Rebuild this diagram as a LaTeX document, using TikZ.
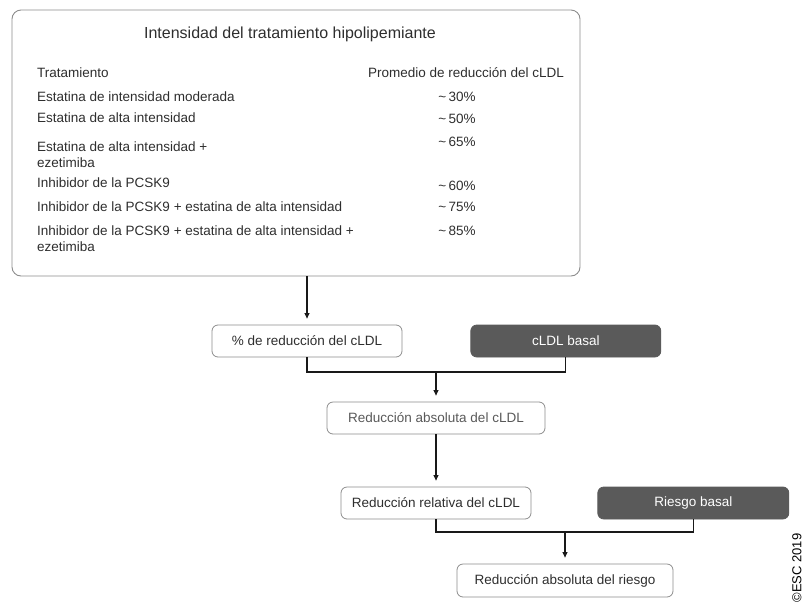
\documentclass[tikz,border=0pt]{standalone}
\usepackage{fontspec}
\setmainfont{Liberation Sans}
\setsansfont{Liberation Sans}
\usepackage{xcolor}
\usepackage{tikz}
\usetikzlibrary{positioning,arrows.meta}
\definecolor{boxgray}{HTML}{8C8C8C}
\definecolor{darkfill}{HTML}{5A5A5A}
\definecolor{inkgray}{HTML}{2E2E2E}
\newcommand{\approxsign}{\raisebox{0.5pt}{\symbol{"7E}}}

\begin{document}
\begin{tikzpicture}[x=1pt, y=-1pt, font=\sffamily\fontsize{13.5}{16}\selectfont, text=inkgray,
	panel/.style={draw=boxgray, line width=0.9pt, rounded corners=9pt, minimum width=568pt, minimum height=266pt},
	row/.style={anchor=west, inner sep=0pt, align=left},
	val/.style={inner sep=0pt},
	stepbox/.style={draw=boxgray, line width=0.8pt, rounded corners=6pt, minimum height=32pt, inner sep=0pt},
	darkbox/.style={stepbox, fill=darkfill, draw=darkfill, text=white},
	link/.style={line width=1.1pt, draw=black!90},
	arr/.style={link, -{Triangle[length=5.5pt, width=5pt]}, shorten >=6pt}]
		\useasboundingbox (0,0) rectangle (807,606);
		\node[panel] (panel) at (296,143) {};
		\node[inner sep=0pt, font=\sffamily\fontsize{16}{19}\selectfont] (title) at (290,34) {Intensidad del tratamiento hipolipemiante};
		\node[row] (head) at (37,73) {Tratamiento};
		\node[val] (rate) at (466,73) {Promedio de reducción del cLDL};
		\node[row] (r1) at (37,97) {Estatina de intensidad moderada};
		\node[val] (v1) at (457,97) {\approxsign\,30\%};
		\node[row] (r2) at (37,118) {Estatina de alta intensidad};
		\node[val] (v2) at (457,119) {\approxsign\,50\%};
		\node[row] (r3) at (37,154.5) {Estatina de alta intensidad +\\ezetimiba};
		\node[val] (v3) at (457,142) {\approxsign\,65\%};
		\node[row] (r4) at (37,183) {Inhibidor de la PCSK9};
		\node[val] (v4) at (457,186) {\approxsign\,60\%};
		\node[row] (r5) at (37,207) {Inhibidor de la PCSK9 + estatina de alta intensidad};
		\node[val] (v5) at (457,207) {\approxsign\,75\%};
		\node[row] (r6) at (37,238.5) {Inhibidor de la PCSK9 + estatina de alta intensidad +\\ezetimiba};
		\node[val] (v6) at (457,231) {\approxsign\,85\%};

		\node[stepbox, minimum width=190pt] (pct) at (307,341) {\% de reducción del cLDL};
		\node[darkbox, minimum width=190pt, right=68pt of pct] (basal) {cLDL basal};
		\node[stepbox, minimum width=218pt, text=black!65] (absLDL) at (436,418) {Reducción absoluta del cLDL};
		\node[stepbox, minimum width=190pt] (relLDL) at (436,503) {Reducción relativa del cLDL};
		\node[darkbox, minimum width=191pt, right=66pt of relLDL] (riskBase) {Riesgo basal};
		\node[stepbox, minimum width=216pt, minimum height=33pt] (absRisk) at (565,580.5) {Reducción absoluta del riesgo};
		\node[rotate=90, inner sep=0pt, text=black, font=\sffamily\fontsize{13}{15}\selectfont] (copy) at (797,568) {©ESC 2019};

		\coordinate (join1) at (absLDL.north |- 0,372);
		\coordinate (join2) at (absRisk.north |- 0,532);
		\draw[arr] (pct.north |- panel.south) -- (pct.north);
		\draw[link] (pct.south) |- (join1) -| (basal.south);
		\draw[arr] (join1) -- (absLDL.north);
		\draw[arr] (absLDL.south) -- (relLDL.north);
		\draw[link] (relLDL.south) |- (join2) -| (riskBase.south);
		\draw[arr] (join2) -- (absRisk.north);
	\end{tikzpicture}
\end{document}
